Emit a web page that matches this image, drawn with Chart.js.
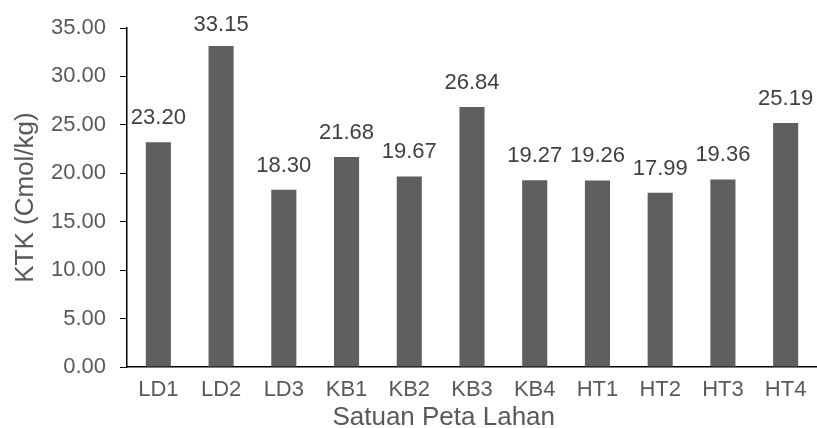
<!DOCTYPE html>
<html>
<head>
<meta charset="utf-8">
<script src="https://cdn.jsdelivr.net/npm/chart.js@4/dist/chart.umd.min.js"></script>
<style>
  html, body { margin: 0; padding: 0; background: #fff; }
  #wrap { width: 817px; height: 428px; }
</style>
</head>
<body>
<div id="wrap"><canvas id="ktkChart"></canvas></div>
<script>
const units = ['LD1', 'LD2', 'LD3', 'KB1', 'KB2', 'KB3', 'KB4', 'HT1', 'HT2', 'HT3', 'HT4'];
const ktkValues = [23.20, 33.15, 18.30, 21.68, 19.67, 26.84, 19.27, 19.26, 17.99, 19.36, 25.19];
const yTicks = [0, 5, 10, 15, 20, 25, 30, 35];

const FONT = '"Liberation Sans", Arial, sans-serif';
const xTitle = 'Satuan Peta Lahan';

// value labels above each bar + x axis title (sits a bit left of centre)
const extraText = {
  id: 'extraText',
  afterDatasetsDraw(chart) {
    const ctx = chart.ctx;
    const meta = chart.getDatasetMeta(0);
    const top = chart.chartArea.top;
    ctx.save();
    ctx.font = '22px ' + FONT;
    ctx.fillStyle = '#404040';
    ctx.textAlign = 'center';
    ctx.textBaseline = 'alphabetic';
    meta.data.forEach((bar, i) => {
      // keep the tallest label from running off the top
      const y = Math.max(bar.y - 18, top + 3);
      ctx.fillText(ktkValues[i].toFixed(2), bar.x, y);
    });

    const xs = chart.scales.x;
    ctx.font = '26px ' + FONT;
    ctx.fillStyle = '#595959';
    ctx.fillText(xTitle, xs.left + xs.width * 0.459, xs.bottom - 3);
    ctx.restore();
  }
};

new Chart(document.getElementById('ktkChart').getContext('2d'), {
  type: 'bar',
  data: {
    labels: units,
    datasets: [{
      data: ktkValues,
      backgroundColor: '#5f5f5f',
      barPercentage: 0.4,
      categoryPercentage: 1.0
    }]
  },
  options: {
    responsive: true,
    maintainAspectRatio: false,
    animation: false,
    layout: { padding: { top: 28, right: 0, left: 0, bottom: 0 } },
    plugins: { legend: { display: false }, tooltip: { enabled: false } },
    scales: {
      x: {
        grid: { display: false },
        border: { display: true, color: '#000', width: 1.5 },
        ticks: { color: '#595959', font: { family: FONT, size: 22 }, padding: 2 },
        title: { display: false },
        afterFit: (s) => { s.height = 61; }
      },
      y: {
        min: 0,
        max: 35,
        grid: { drawOnChartArea: false, drawTicks: true, tickLength: 7, color: '#000' },
        border: { display: true, color: '#000', width: 1.5 },
        ticks: { color: '#595959', font: { family: FONT, size: 22 }, padding: 14, callback: (v) => v.toFixed(2) },
        afterBuildTicks: (s) => { s.ticks = yTicks.map((v) => ({ value: v })); },
        title: { display: true, text: 'KTK (Cmol/kg)', color: '#595959', font: { family: FONT, size: 26 }, padding: { top: 10, bottom: 0 } },
        afterFit: (s) => { s.width = 127; }
      }
    }
  },
  plugins: [extraText]
});
</script>
</body>
</html>
